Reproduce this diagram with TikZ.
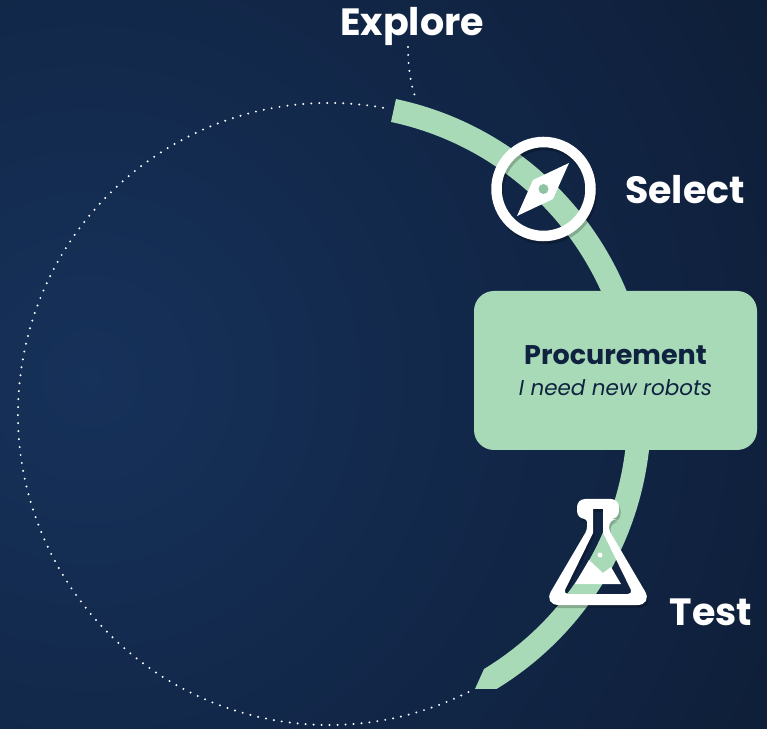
\documentclass[tikz,border=0pt]{standalone}
\usepackage{fontspec}
\setmainfont{Poppins}
\definecolor{bandgreen}{HTML}{A8DAB8}
\definecolor{holegreen}{HTML}{8FC3A3}
\definecolor{navy}{HTML}{0F2340}
\definecolor{bgglow}{HTML}{16315A}
\definecolor{bgdark}{HTML}{0E1E38}
\pgfdeclareradialshading{bgshade}{\pgfpointorigin}{color(0bp)=(bgglow); color(24bp)=(bgdark); color(50bp)=(bgdark)}
\newcommand{\flaskpath}{
    [rounded corners=8] (577,229) -- (619,229) -- (619,209) -- (609,209)
    [rounded corners=3] -- (609,198)
    [rounded corners=16] -- (653,123) -- (543,123)
    [rounded corners=3] -- (587,198) -- (587,209)
    [rounded corners=8] -- (577,209) -- cycle
    [rounded corners=0] (593,219) -- (603,219) -- (603,195)
    [rounded corners=5] -- (633,134) -- (563,134)
    [rounded corners=0] -- (593,195) -- cycle}
\tikzset{
  steplabel/.style={text=white,font=\fontsize{38}{44}\selectfont\bfseries,inner sep=0pt},
  panel/.style={fill=bandgreen,rounded corners=20,text=navy,minimum width=283,minimum height=159,align=center,inner sep=0pt,font=\fontsize{21}{31}\selectfont},
  dots/.style={white,line width=2.2,line cap=round,dash pattern=on 0pt off 8pt},
  iconshadow/.style={black,opacity=.22,shift={(1.5,-3)}},
}
\begin{document}
\begin{tikzpicture}[x=1pt,y=1pt]
  \useasboundingbox (0,0) rectangle (767,728);
  \clip (0,0) rectangle (767,728);
  \shade[shading=bgshade] (90,350) circle (820);

  \draw[dots] (329,314) ++(80:311) arc[start angle=80,end angle=298,radius=311];
  \coordinate (linktop) at (408,681);
  \coordinate (linkend) at (417,627);
  \draw[dots] (linktop) .. controls (408,660) and (411,640) .. (linkend);

  \fill[bandgreen] (329,314) ++(78:322) arc[start angle=78,end angle=-58.6,radius=322]
    -- (475,39) -- (484,59) arc[start angle=-58.7,end angle=78,radius=298.5] -- cycle;

  \node[panel] (procurement) at (615.5,357.5) {{\fontsize{27}{31}\selectfont\bfseries Procurement}\\{\fontsize{21.5}{31}\selectfont\itshape I need new robots}};

  % compass
  \draw[iconshadow,line width=10.5] (543.5,539) circle (47);
  \node[circle,draw=white,line width=10.5,minimum size=94,inner sep=0pt] (compass) at (543.5,539) {};
  \fill[white] (569,565) -- (553,529) -- (517,512) -- (533,548) -- cycle;
  \fill[holegreen] (compass.center) circle (5);

  % flask
  \fill[iconshadow,even odd rule] \flaskpath;
  \fill[white,even odd rule] \flaskpath;
  \fill[white] (575,144) -- (589,168) -- (603,155) -- (611,161) -- (621,144) -- cycle;
  \fill[white] (600,173) circle (2.5);

  \node[steplabel] (explore) at (412,701) {Explore};
  \node[steplabel] (select) at (685,538) {Select};
  \node[steplabel] (test) at (711,116) {Test};
\end{tikzpicture}
\end{document}
